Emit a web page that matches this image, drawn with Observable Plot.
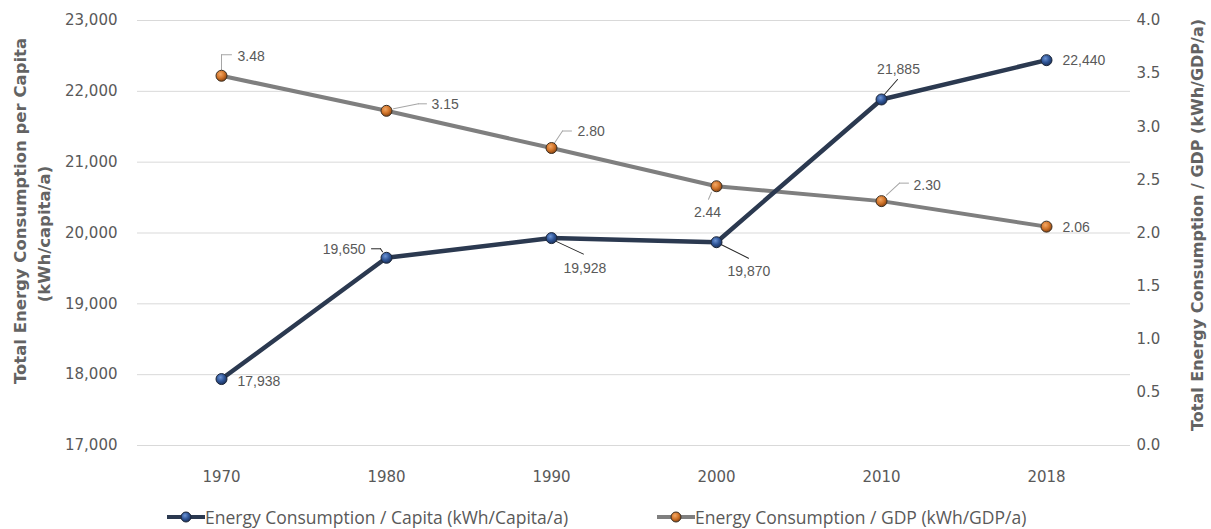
<!DOCTYPE html>
<html>
<head>
<meta charset="utf-8">
<script src="https://cdn.jsdelivr.net/npm/d3@7"></script>
<script src="https://cdn.jsdelivr.net/npm/@observablehq/plot@0.6"></script>
<style>
  body { margin: 0; background: #fff; }
  #wrap { position: relative; width: 1211px; height: 529px; overflow: hidden; }
  .legend-item { position: absolute; top: 505px; height: 24px; display: flex; align-items: center;
    font-family: "Open Sans", sans-serif; font-size: 17.5px; color: #595959; white-space: nowrap; }
  .legend-item svg { display: block; }
</style>
</head>
<body>
<div id="wrap"></div>
<script>
// Years on the category axis
const years = ["1970", "1980", "1990", "2000", "2010", "2018"];
// Energy consumption per capita (kWh/capita/a), left axis
const perCapita = [17938, 19650, 19928, 19870, 21885, 22440];
// Energy consumption per GDP (kWh/GDP/a), right axis
const perGdp = [3.48, 3.15, 2.80, 2.44, 2.30, 2.06];
// Axis ticks
const leftTicks = [17000, 18000, 19000, 20000, 21000, 22000, 23000];
const rightTicks = [0, 0.5, 1.0, 1.5, 2.0, 2.5, 3.0, 3.5, 4.0];
// Series names
const seriesNames = ["Energy Consumption / Capita (kWh/Capita/a)", "Energy Consumption / GDP (kWh/GDP/a)"];
const leftTitle = ["Total Energy Consumption per Capita", "(kWh/capita/a)"];
const rightTitle = "Total Energy Consumption / GDP (kWh/GDP/a)";

// The right axis (0–4) shares the plot height with the left axis (17,000–23,000)
const leftDomain = [17000, 23000];
const rightDomain = [0, 4];
const toLeft = v => leftDomain[0] + (v - rightDomain[0]) * (leftDomain[1] - leftDomain[0]) / (rightDomain[1] - rightDomain[0]);
const toRight = d => rightDomain[0] + (d - leftDomain[0]) * (rightDomain[1] - rightDomain[0]) / (leftDomain[1] - leftDomain[0]);

const rows = years.map((year, i) => ({year, capita: perCapita[i], gdp: perGdp[i], gdpY: toLeft(perGdp[i])}));

const capitaColor = "#2b3950";
const gdpColor = "#7f7f7f";

// Label placement for each point: text offset (px) and anchor, plus leader polyline offsets (px)
const capitaLabelStyle = [
  {dx: 16, dy: 2, anchor: "start", leader: null},
  {dx: -21, dy: -8, anchor: "end", leader: [[-4, -6], [-6, -9], [-15, -9]]},
  {dx: 12, dy: 30, anchor: "start", leader: [[2, 2], [32, 16]]},
  {dx: 11, dy: 29, anchor: "start", leader: [[4, 2], [32, 16]]},
  {dx: 17, dy: -30, anchor: "middle", leader: [[2, -4], [16, -20]]},
  {dx: 16, dy: 0, anchor: "start", leader: null}
];
const gdpLabelStyle = [
  {dx: 16, dy: -19, anchor: "start", leader: [[0, -6], [0, -21], [10, -21]]},
  {dx: 45, dy: -6, anchor: "start", leader: [[7, -2], [32, -7], [40, -7]]},
  {dx: 26, dy: -16, anchor: "start", leader: [[3, -5], [11, -17], [20, -17]]},
  {dx: -9, dy: 26, anchor: "middle", leader: [[-5, 6], [-8, 13]]},
  {dx: 32, dy: -16, anchor: "start", leader: [[5, -6], [18, -18], [27, -18]]},
  {dx: 16, dy: 1, anchor: "start", leader: null}
];

const lineShape = {draw(context, l) { context.moveTo(0, 0); context.lineTo(0, -l); }};

// One vector per leader segment, anchored at the data point and shifted by the segment start
function leaderMarks(yKey, styles, stroke) {
  const marks = [];
  rows.forEach((row, i) => {
    const pts = styles[i].leader;
    if (!pts) return;
    for (let k = 0; k < pts.length - 1; k++) {
      const [ax, ay] = pts[k], [bx, by] = pts[k + 1];
      const length = Math.hypot(bx - ax, by - ay);
      const rotate = Math.atan2(bx - ax, -(by - ay)) * 180 / Math.PI;
      marks.push(Plot.vector([row], {x: "year", y: yKey, dx: ax, dy: ay, length, rotate,
        anchor: "start", shape: lineShape, stroke, strokeWidth: 1}));
    }
  });
  return marks;
}

function labelMarks(yKey, styles, format) {
  return rows.map((row, i) => Plot.text([row], {
    x: "year", y: yKey, text: format, dx: styles[i].dx, dy: styles[i].dy,
    textAnchor: styles[i].anchor, fill: "#595959", fontSize: 14,
    fontFamily: "'Liberation Sans', sans-serif"
  }));
}

// Glossy marker fills
function gradients() {
  const defs = d3.create("svg:defs");
  const add = (id, light, mid, dark) => {
    const g = defs.append("radialGradient").attr("id", id).attr("cx", "40%").attr("cy", "35%").attr("r", "65%");
    g.append("stop").attr("offset", "0%").attr("stop-color", light);
    g.append("stop").attr("offset", "55%").attr("stop-color", mid);
    g.append("stop").attr("offset", "100%").attr("stop-color", dark);
  };
  add("capitaGloss", "#6d95d6", "#2f5597", "#1b325c");
  add("gdpGloss", "#f3a866", "#d2752a", "#8a4512");
  return defs.node();
}

const titleStyle = {rotate: -90, textAnchor: "middle", fontWeight: "bold", fill: "#636363", fontFamily: "'DejaVu Sans', sans-serif"};

const chart = Plot.plot({
  width: 1211,
  height: 495,
  marginLeft: 137,
  marginRight: 81,
  marginTop: 20,
  marginBottom: 50,
  style: {fontFamily: "'DejaVu Sans', sans-serif", fontSize: "15px", color: "#595959", background: "#fff"},
  x: {type: "point", domain: years, padding: 0.5},
  y: {domain: leftDomain},
  marks: [
    gradients,
    Plot.gridY(leftTicks, {stroke: "#d9d9d9", strokeOpacity: 1}),
    Plot.axisY(leftTicks, {anchor: "left", tickSize: 0, tickPadding: 20, tickFormat: d3.format(","), label: null, fill: "#595959"}),
    Plot.axisY(rightTicks.map(toLeft), {anchor: "right", tickSize: 0, tickPadding: 6, tickFormat: d => toRight(d).toFixed(1), label: null, fill: "#595959"}),
    Plot.axisX({tickSize: 0, tickPadding: 26, label: null, fill: "#595959"}),
    Plot.text([leftTitle[0]], {...titleStyle, fontSize: 16.5, frameAnchor: "left", dx: -117, dy: -22}),
    Plot.text([leftTitle[1]], {...titleStyle, fontSize: 16.5, frameAnchor: "left", dx: -93, dy: 1}),
    Plot.text([rightTitle], {...titleStyle, fontSize: 16, frameAnchor: "right", dx: 67, dy: -8}),
    Plot.line(rows, {x: "year", y: "gdpY", stroke: gdpColor, strokeWidth: 4}),
    Plot.line(rows, {x: "year", y: "capita", stroke: capitaColor, strokeWidth: 4.5}),
    ...leaderMarks("gdpY", gdpLabelStyle, "#a6a6a6"),
    ...leaderMarks("capita", capitaLabelStyle, "#262626"),
    Plot.dot(rows, {x: "year", y: "gdpY", r: 5.5, fill: "url(#gdpGloss)", stroke: "#3b3024", strokeWidth: 1}),
    Plot.dot(rows, {x: "year", y: "capita", r: 5.5, fill: "url(#capitaGloss)", stroke: "#1c2638", strokeWidth: 1}),
    ...labelMarks("gdpY", gdpLabelStyle, d => d.gdp.toFixed(2)),
    ...labelMarks("capita", capitaLabelStyle, d => d3.format(",")(d.capita))
  ]
});

const wrap = document.getElementById("wrap");
wrap.appendChild(chart);

// Legend below the chart
const legendLeft = [167, 657];
const legendColors = [[capitaColor, "url(#capitaGloss)", "#1c2638"], [gdpColor, "url(#gdpGloss)", "#3b3024"]];
seriesNames.forEach((name, i) => {
  const item = document.createElement("div");
  item.className = "legend-item";
  item.style.left = legendLeft[i] + "px";
  const svg = d3.create("svg").attr("width", 38).attr("height", 24);
  svg.append("line").attr("x1", 0).attr("x2", 38).attr("y1", 12).attr("y2", 12)
    .attr("stroke", legendColors[i][0]).attr("stroke-width", 4);
  svg.append("circle").attr("cx", 19).attr("cy", 12).attr("r", 5)
    .attr("fill", legendColors[i][1]).attr("stroke", legendColors[i][2]);
  item.appendChild(svg.node());
  const span = document.createElement("span");
  span.textContent = name;
  item.appendChild(span);
  wrap.appendChild(item);
});
</script>
</body>
</html>
